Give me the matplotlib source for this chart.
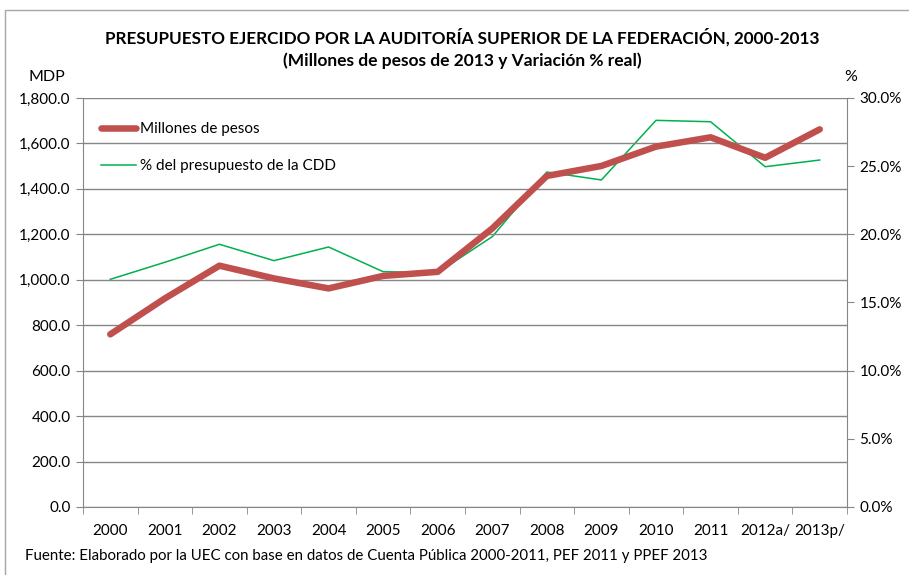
import matplotlib
matplotlib.use("Agg")
import matplotlib.pyplot as plt
from matplotlib.ticker import FuncFormatter, FixedLocator
from matplotlib.patches import Rectangle

plt.rcParams['font.family'] = ['Lato', 'DejaVu Sans']

years = ["2000", "2001", "2002", "2003", "2004", "2005", "2006", "2007",
         "2008", "2009", "2010", "2011", "2012a/", "2013p/"]
millones = [760, 918, 1062, 1006, 962, 1017, 1035, 1226, 1457, 1501, 1586, 1627, 1537, 1662]
pct_cdd = [16.7, 17.95, 19.27, 18.07, 19.07, 17.26, 17.19, 19.83, 24.57, 23.99, 28.36, 28.26, 24.96, 25.45]

RED = "#C0504D"
GREEN = "#00B050"
GRID = "#868686"

fig = plt.figure(figsize=(9.09, 5.75), dpi=100)
fig.patches.append(Rectangle((5/909, -0.1), 1.0, 1 - 10/575 + 0.1, transform=fig.transFigure,
                             fill=False, edgecolor="#A6A6A6", linewidth=1))

ax = fig.add_axes([83/909, 1 - 507/575, (847 - 83)/909, (507 - 98)/575])
ax2 = ax.twinx()

x = list(range(len(years)))
l1, = ax.plot(x, millones, color=RED, linewidth=4.7, solid_capstyle='round',
              solid_joinstyle='round', label="Millones de pesos", zorder=3)
l2, = ax2.plot(x, [v / 100 for v in pct_cdd], color=GREEN, linewidth=1.1,
               label="% del presupuesto de la CDD", zorder=2)
ax.set_zorder(ax2.get_zorder() + 1)
ax.patch.set_visible(False)

ax.set_xlim(-0.5, len(years) - 0.5)
ax.set_ylim(0, 1800)
ax2.set_ylim(0, 0.30)
ax.set_yticks(range(0, 1801, 200))
ax.yaxis.set_major_formatter(FuncFormatter(lambda v, p: f"{v:,.1f}"))
ax2.set_yticks([i * 0.05 for i in range(7)])
ax2.yaxis.set_major_formatter(FuncFormatter(lambda v, p: f"{v*100:.1f}%"))

ax.set_xticks(x)
ax.set_xticklabels(years)
ax.xaxis.set_minor_locator(FixedLocator([i - 0.5 for i in range(len(years) + 1)]))
ax.tick_params(axis='x', which='major', length=0, pad=12, labelsize=11)
ax.tick_params(axis='x', which='minor', length=5, color=GRID, direction='out')
ax.tick_params(axis='y', length=5, color=GRID, labelsize=11, pad=4)
ax2.tick_params(axis='y', length=5, color=GRID, labelsize=11, pad=4)

ax.grid(axis='y', color=GRID, linewidth=1)
for a in (ax, ax2):
    for s in a.spines.values():
        s.set_visible(False)
ax.spines['left'].set_visible(True)
ax.spines['left'].set_color(GRID)
ax.spines['bottom'].set_visible(True)
ax.spines['bottom'].set_color(GRID)
ax2.spines['right'].set_visible(True)
ax2.spines['right'].set_color(GRID)

leg = ax.legend(handles=[l1, l2], loc='upper left', bbox_to_anchor=(0.0, 0.985),
                frameon=False, fontsize=11, handlelength=2.3, handletextpad=0.2,
                labelspacing=1.5, borderaxespad=0.8)

fig.text(462/909, 1 - 37/575, "PRESUPUESTO EJERCIDO POR LA AUDITORÍA SUPERIOR DE LA FEDERACIÓN, 2000-2013",
         ha='center', va='center', fontsize=12.3, fontweight='bold')
fig.text(462/909, 1 - 61/575, "(Millones de pesos de 2013 y Variación % real)",
         ha='center', va='center', fontsize=12.5, fontweight='bold')
fig.text(47/909, 1 - 77/575, "MDP", ha='center', va='center', fontsize=11.5)
fig.text(851/909, 1 - 77/575, "%", ha='center', va='center', fontsize=11.5)
fig.text(25/909, 1 - 556/575,
         "Fuente: Elaborado por la UEC con base en datos de Cuenta Pública 2000-2011, PEF 2011 y PPEF 2013",
         ha='left', va='center', fontsize=10.8)

fig.savefig("out.png", dpi=100)
